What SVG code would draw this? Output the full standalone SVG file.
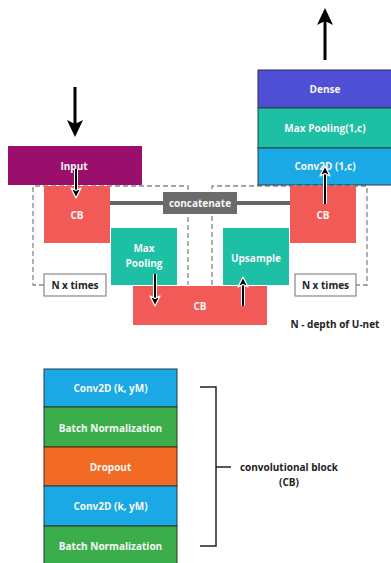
<svg xmlns="http://www.w3.org/2000/svg" width="391" height="563" viewBox="0 0 391 563">
<style>
text{font-family:"Open Sans","DejaVu Sans",sans-serif;font-weight:700;font-size:10px;text-anchor:middle;dominant-baseline:central}
.w{fill:#f7f7f7}
.d{fill:#222}
.dash{fill:none;stroke:#888;stroke-width:1.3;stroke-dasharray:5,3}
.cb{fill:#F25A57}
.teal{fill:#1DBFA5}
.blue{fill:#1BA9E6;stroke:#2a3a44;stroke-width:1}
.green{fill:#3BAE4B;stroke:#243a26;stroke-width:1}
.orange{fill:#F26B25;stroke:#4a2a18;stroke-width:1}
.nbox{fill:#fff;stroke:#888;stroke-width:1.2}
.big{stroke:#000;stroke-width:3;fill:none}
.sm{stroke:#000;stroke-width:2;fill:none}
.smh{stroke:#fff;stroke-width:4;fill:none}
</style>
<defs>
<marker id="ah" markerWidth="18" markerHeight="18" refX="8" refY="8" orient="auto" markerUnits="userSpaceOnUse" overflow="visible"><path d="M0,0 L17,8 L0,16 L4,8 Z" fill="#000"/></marker>
<marker id="sh" markerWidth="14" markerHeight="14" refX="4" refY="5" orient="auto" markerUnits="userSpaceOnUse" overflow="visible"><path d="M0,0 L10,5 L0,10 L2.5,5 Z" fill="#000" stroke="#fff" stroke-width="1.3" stroke-linejoin="round"/></marker>
</defs>
<rect width="391" height="563" fill="#fff"/>
<g id="dashed-boxes">
<path class="dash" d="M44,285 H33 V186 H188 V285"/>
<path class="dash" d="M212,285 V186 H367 V285 H356"/>
</g>
<g id="input"><rect x="8" y="146" width="134" height="39" fill="#990F6B"/><text class="w" x="74" y="166">Input</text></g>
<g id="cb-left"><rect class="cb" x="44" y="186" width="66" height="57"/><text class="w" x="77" y="215">CB</text></g>
<g id="maxpool"><rect class="teal" x="111" y="228" width="66" height="57"/><text class="w" x="144" y="248">Max</text><text class="w" x="144" y="263">Pooling</text></g>
<g id="cb-bottom"><rect class="cb" x="133" y="286" width="134" height="39"/><text class="w" x="200" y="306">CB</text></g>
<g id="upsample"><rect class="teal" x="223" y="228" width="66" height="57"/><text class="w" x="256" y="258">Upsample</text></g>
<g id="cb-right"><rect class="cb" x="290" y="186" width="66" height="57"/><text class="w" x="323" y="215">CB</text></g>
<g id="concat-lines"><path d="M110,203 H290" stroke="#666" stroke-width="4"/></g>
<g id="concatenate"><rect x="163" y="192" width="74" height="22" fill="#6B6B6B"/><text class="w" x="200" y="203">concatenate</text></g>
<g id="nx-left"><rect class="nbox" x="44" y="274" width="62" height="22"/><text class="d" x="75" y="285">N x times</text></g>
<g id="nx-right"><rect class="nbox" x="295" y="274" width="61" height="22"/><text class="d" x="325.5" y="285">N x times</text></g>
<g id="depth"><text class="d" x="335" y="324">N - depth of U-net</text></g>
<g id="dense"><rect x="258" y="70" width="134" height="38" fill="#4F4FD6" stroke="#2a2a55" stroke-width="1"/><text class="w" x="325" y="89">Dense</text></g>
<g id="maxpool-1c"><rect x="258" y="108" width="134" height="40" fill="#1DBFA5" stroke="#1f4a44" stroke-width="1"/><text class="w" x="325" y="128">Max Pooling(1,c)</text></g>
<g id="conv-1c"><rect class="blue" x="258" y="148" width="134" height="37"/><text class="w" x="325" y="166">Conv2D (1,c)</text></g>
<g id="connectors">
<line class="big" x1="75" y1="87" x2="75" y2="128" marker-end="url(#ah)"/>
<line class="big" x1="325" y1="60" x2="325" y2="17" marker-end="url(#ah)"/>
<line class="smh" x1="76" y1="169" x2="76" y2="192"/>
<line class="sm" x1="76" y1="169" x2="76" y2="192" marker-end="url(#sh)"/>
<line class="smh" x1="155" y1="274" x2="155" y2="300"/>
<line class="sm" x1="155" y1="274" x2="155" y2="300" marker-end="url(#sh)"/>
<line class="smh" x1="243" y1="306" x2="243" y2="283"/>
<line class="sm" x1="243" y1="306" x2="243" y2="283" marker-end="url(#sh)"/>
<line class="smh" x1="325" y1="204" x2="325" y2="172"/>
<line class="sm" x1="325" y1="204" x2="325" y2="172" marker-end="url(#sh)"/>
</g>
<g id="cb-stack">
<rect class="blue" x="44" y="369" width="133" height="38"/><text class="w" x="110.5" y="388">Conv2D (k, yM)</text>
<rect class="green" x="44" y="407" width="133" height="40"/><text class="w" x="110.5" y="428">Batch Normalization</text>
<rect class="orange" x="44" y="447" width="133" height="39"/><text class="w" x="110.5" y="467">Dropout</text>
<rect class="blue" x="44" y="486" width="133" height="40"/><text class="w" x="110.5" y="506">Conv2D (k, yM)</text>
<rect class="green" x="44" y="526" width="133" height="40"/><text class="w" x="110.5" y="546">Batch Normalization</text>
</g>
<g id="bracket"><path d="M200,387 H216 V546 H200 M216,467 H231" fill="none" stroke="#222" stroke-width="1.5"/>
<text class="d" x="289" y="467">convolutional block</text><text class="d" x="289" y="482">(CB)</text></g>
</svg>
